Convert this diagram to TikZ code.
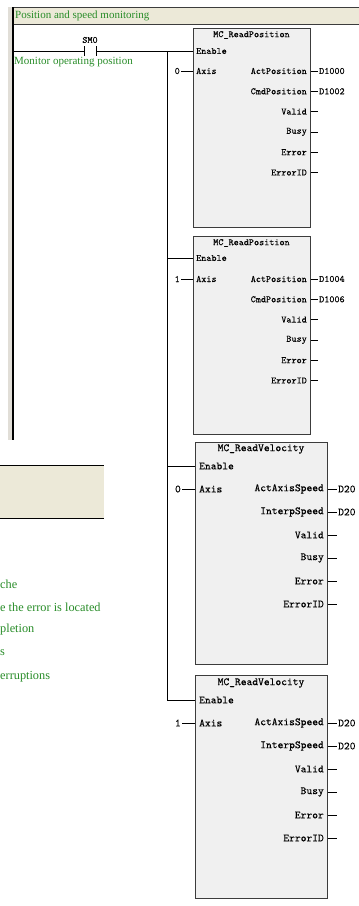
\documentclass[tikz,border=0pt]{standalone}
\usepackage{fontspec}
\setmainfont{Liberation Serif}
\newfontfamily\fbfont[FakeBold=0.25]{Latin Modern Mono}
\usetikzlibrary{calc,positioning}
\definecolor{notegreen}{RGB}{40,140,40}
\definecolor{rungfill}{RGB}{236,233,216}
\definecolor{railgray}{RGB}{225,222,215}
\definecolor{fbfill}{RGB}{240,240,240}
\definecolor{fbline}{RGB}{60,60,60}
\tikzset{
    fbblock/.style={rectangle,draw=fbline,line width=0.8pt,fill=fbfill,anchor=north west,inner sep=0pt},
    fbsmall/.style={font=\fbfont\fontsize{9.7}{10}\selectfont},
    fblarge/.style={font=\fbfont\fontsize{11}{12}\selectfont},
    pinleft/.style={anchor=west,inner sep=0pt},
    pinright/.style={anchor=east,inner sep=0pt},
    pinin/.style={anchor=east,inner sep=1pt},
    pinvalue/.style={anchor=west,inner sep=1pt},
    contactbox/.style={rectangle,minimum width=12pt,minimum height=9pt,inner sep=0pt},
    notetext/.style={anchor=west,inner sep=0pt,text=notegreen},
    wire/.style={line width=0.6pt}
}

\begin{document}
\begin{tikzpicture}[x=1pt,y=1pt]
    \useasboundingbox (0,0) rectangle (359,-906);
    % power rail and rung header
    \fill[railgray] (8,-7) rectangle (12,-440);
    \draw[line width=1.6pt] (12.8,-7) -- (12.8,-440);
    \fill[rungfill] (13.6,-7) rectangle (359,-24.5);
    \draw[fbline,line width=0.6pt] (13.6,-7) -- (359,-7);
    \draw[fbline,line width=0.6pt] (13.6,-24.5) -- (359,-24.5);
    \node[notetext,font=\fontsize{11}{12}\selectfont] (rungtitle) at (15,-16) {Position and speed monitoring};
    % second rung header (left part)
    \fill[rungfill] (0,-465) rectangle (104,-518);
    \draw[line width=0.8pt] (0,-465) -- (104,-465);
    \draw[line width=0.8pt] (0,-518) -- (104,-518);

    % contact SM0
    \node[contactbox] (sm0) at (90,-51) {};
    \draw[wire] (sm0.north west) -- (sm0.south west) (sm0.north east) -- (sm0.south east);
    \node[fbsmall,inner sep=0pt] (sm0lab) at (90,-40) {SM0};
    \node[notetext,font=\fontsize{11}{12}\selectfont] (sm0note) at (14,-62) {Monitor operating position};
    \coordinate (rail) at (12.8,-51);
    \coordinate (bus) at (167,-51);

    % MC_ReadPosition, axis 0
    \begin{scope}[fbsmall]
        \node[fbblock,minimum width=117pt,minimum height=199pt] (rp1) at (193,-28) {};
        \node (rp1t) at (251.5,-35) {MC\_ReadPosition};
        \node[pinleft] (rp1en) at (196,-51) {Enable};
        \node[pinleft] (rp1ax) at (196,-71) {Axis};
        \node[pinin] (rp1ai) at (181,-71) {0};
        \draw[wire] (rp1ai.east) -- (rp1ax -| rp1.west);
        \foreach \lab/\val [count=\i from 0] in {ActPosition/D1000,CmdPosition/D1002,Valid/,Busy/,Error/,ErrorID/} {
            \node[pinright] (rp1o\i) at (307,-71-20.3*\i) {\lab};
            \node[pinvalue] (rp1v\i) at (318,-71-20.3*\i) {\val};
            \draw[wire] (rp1o\i -| rp1.east) -- (rp1v\i.west);
        }
    \end{scope}

    % MC_ReadPosition, axis 1
    \begin{scope}[fbsmall]
        \node[fbblock,minimum width=117pt,minimum height=198pt] (rp2) at (193,-236) {};
        \node (rp2t) at (251.5,-243) {MC\_ReadPosition};
        \node[pinleft] (rp2en) at (196,-258) {Enable};
        \node[pinleft] (rp2ax) at (196,-279) {Axis};
        \node[pinin] (rp2ai) at (181,-279) {1};
        \draw[wire] (rp2ai.east) -- (rp2ax -| rp2.west);
        \foreach \lab/\val [count=\i from 0] in {ActPosition/D1004,CmdPosition/D1006,Valid/,Busy/,Error/,ErrorID/} {
            \node[pinright] (rp2o\i) at (307,-279-20.3*\i) {\lab};
            \node[pinvalue] (rp2v\i) at (318,-279-20.3*\i) {\val};
            \draw[wire] (rp2o\i -| rp2.east) -- (rp2v\i.west);
        }
    \end{scope}

    % MC_ReadVelocity, axis 0
    \begin{scope}[fblarge]
        \node[fbblock,minimum width=132pt,minimum height=222pt] (rv1) at (195,-442) {};
        \node (rv1t) at (261,-449) {MC\_ReadVelocity};
        \node[pinleft] (rv1en) at (199,-466) {Enable};
        \node[pinleft] (rv1ax) at (199,-489) {Axis};
        \node[pinin] (rv1ai) at (182,-489) {0};
        \draw[wire] (rv1ai.east) -- (rv1ax -| rv1.west);
        \foreach \lab/\val [count=\i from 0] in {ActAxisSpeed/D20,InterpSpeed/D20,Valid/,Busy/,Error/,ErrorID/} {
            \node[pinright] (rv1o\i) at (324,-489-23*\i) {\lab};
            \node[pinvalue] (rv1v\i) at (337,-489-23*\i) {\val};
            \draw[wire] (rv1o\i -| rv1.east) -- (rv1v\i.west);
        }
    \end{scope}

    % MC_ReadVelocity, axis 1
    \begin{scope}[fblarge]
        \node[fbblock,minimum width=132pt,minimum height=223pt] (rv2) at (195,-675) {};
        \node (rv2t) at (261,-683) {MC\_ReadVelocity};
        \node[pinleft] (rv2en) at (199,-700) {Enable};
        \node[pinleft] (rv2ax) at (199,-723) {Axis};
        \node[pinin] (rv2ai) at (182,-723) {1};
        \draw[wire] (rv2ai.east) -- (rv2ax -| rv2.west);
        \foreach \lab/\val [count=\i from 0] in {ActAxisSpeed/D20,InterpSpeed/D20,Valid/,Busy/,Error/,ErrorID/} {
            \node[pinright] (rv2o\i) at (324,-723-23*\i) {\lab};
            \node[pinvalue] (rv2v\i) at (337,-723-23*\i) {\val};
            \draw[wire] (rv2o\i -| rv2.east) -- (rv2v\i.west);
        }
    \end{scope}

    % enable wiring
    \draw[wire] (rail) -- (sm0.west);
    \draw[wire] (sm0.east) -- (rp1en -| rp1.west);
    \draw[wire] (bus) |- (rv2en -| rv2.west);
    \draw[wire] (bus |- rp2en) -- (rp2en -| rp2.west);
    \draw[wire] (bus |- rv1en) -- (rv1en -| rv1.west);

    % comments of the lower rung
    \begin{scope}[font=\fontsize{12.3}{13}\selectfont]
        \node[notetext] (note1) at (0,-584) {che};
        \node[notetext] (note2) at (0,-607) {e the error is located};
        \node[notetext] (note3) at (0,-630) {pletion};
        \node[notetext] (note4) at (0,-653) {s};
        \node[notetext] (note5) at (0,-677) {erruptions};
    \end{scope}
\end{tikzpicture}
\end{document}
